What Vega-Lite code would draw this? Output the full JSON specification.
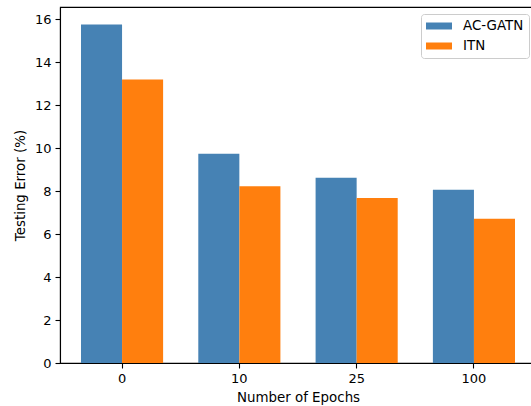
{
  "$schema": "https://vega.github.io/schema/vega-lite/v6.json",
  "width": 476,
  "height": 356,
  "autosize": {"type": "none"},
  "padding": {"left": 60, "top": 7, "right": 0, "bottom": 43},
  "background": "white",
  "config": {
    "font": "DejaVu Sans",
    "view": {"stroke": "black", "strokeWidth": 1.1},
    "axis": {
      "grid": false,
      "domainColor": "black",
      "domainWidth": 1.1,
      "tickColor": "black",
      "tickWidth": 1.1,
      "tickSize": 5,
      "labelPadding": 4,
      "labelFontSize": 13,
      "labelColor": "black",
      "titleFontSize": 13.4,
      "titleFontWeight": "normal",
      "titleColor": "black"
    }
  },
  "data": {
    "values": [
      {"epochs": "0", "method": "AC-GATN", "error": 15.75},
      {"epochs": "0", "method": "ITN", "error": 13.19},
      {"epochs": "10", "method": "AC-GATN", "error": 9.73},
      {"epochs": "10", "method": "ITN", "error": 8.22},
      {"epochs": "25", "method": "AC-GATN", "error": 8.62},
      {"epochs": "25", "method": "ITN", "error": 7.67},
      {"epochs": "100", "method": "AC-GATN", "error": 8.06},
      {"epochs": "100", "method": "ITN", "error": 6.71}
    ]
  },
  "mark": {"type": "bar"},
  "encoding": {
    "x": {
      "field": "epochs",
      "type": "nominal",
      "sort": ["0", "10", "25", "100"],
      "scale": {"paddingInner": 0.3, "paddingOuter": 0.179},
      "axis": {"labelAngle": 0, "title": "Number of Epochs", "titleY": 34, "titleBaseline": "middle"}
    },
    "xOffset": {
      "field": "method",
      "type": "nominal",
      "sort": ["AC-GATN", "ITN"],
      "scale": {"paddingInner": 0, "paddingOuter": 0}
    },
    "y": {
      "field": "error",
      "type": "quantitative",
      "scale": {"domain": [0, 16.56], "nice": false, "zero": true},
      "axis": {
        "values": [0, 2, 4, 6, 8, 10, 12, 14, 16],
        "title": "Testing Error (%)",
        "titleX": -40,
        "titleY": 178,
        "titleAngle": 270,
        "titleAlign": "center",
        "titleBaseline": "middle"
      }
    },
    "color": {
      "field": "method",
      "type": "nominal",
      "sort": ["AC-GATN", "ITN"],
      "scale": {"domain": ["AC-GATN", "ITN"], "range": ["#4682b4", "#ff7f0e"]},
      "legend": {
        "title": null,
        "orient": "none",
        "legendX": 361,
        "legendY": 7,
        "symbolType": "M-1.857,-0.5H1.857V0.5H-1.857Z",
        "symbolSize": 196,
        "symbolOffset": 6,
        "symbolStrokeWidth": 0,
        "labelFontSize": 13.4,
        "labelColor": "black",
        "labelOffset": 17,
        "rowPadding": 6,
        "padding": 5,
        "fillColor": "white",
        "strokeColor": "#cccccc",
        "cornerRadius": 3
      }
    }
  }
}
